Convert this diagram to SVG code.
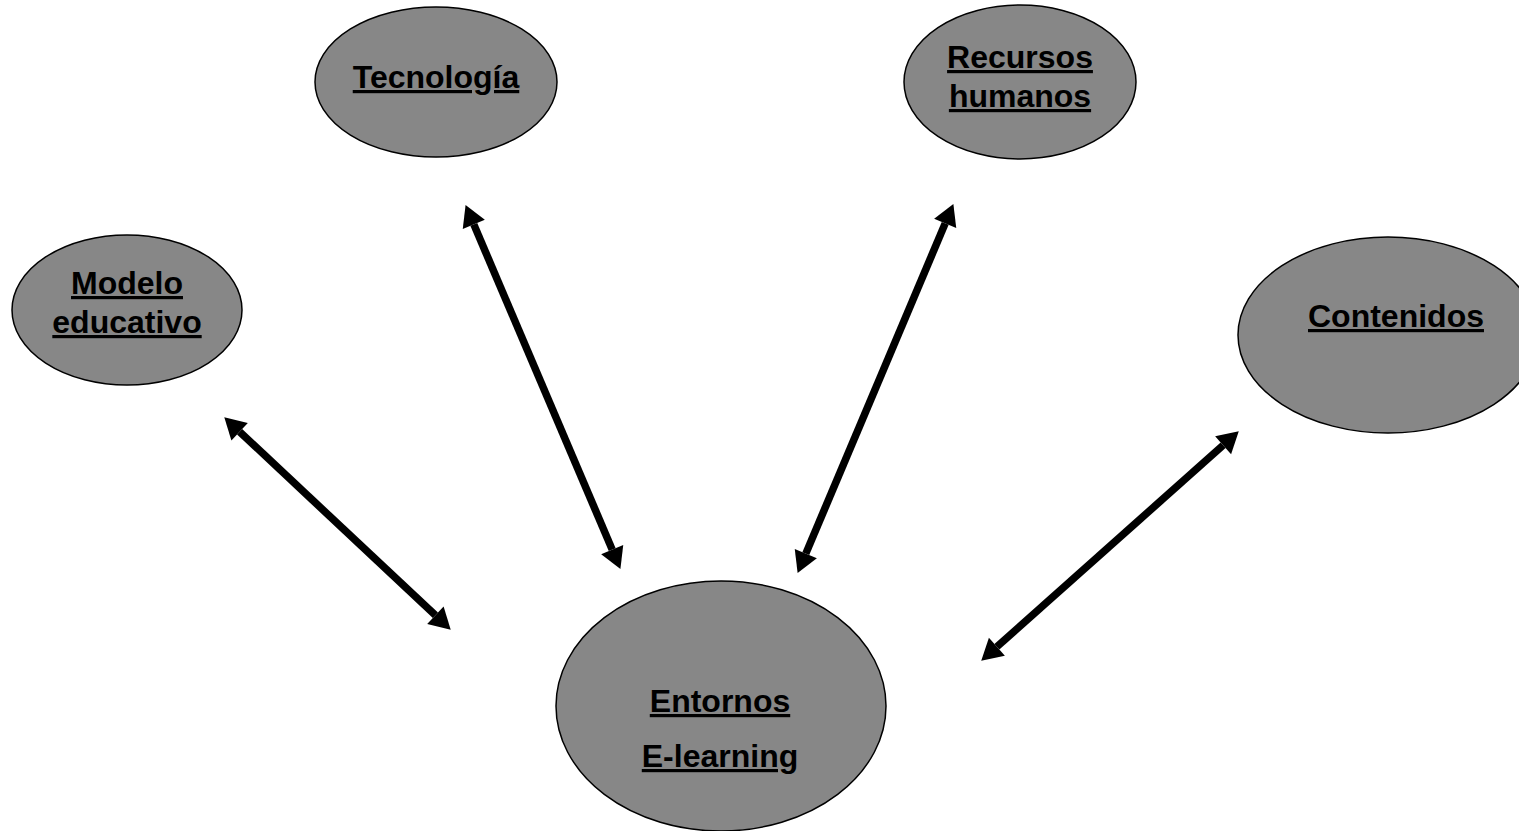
<svg xmlns="http://www.w3.org/2000/svg" width="1519" height="831" viewBox="0 0 1519 831">
<style>
.n{fill:#878787;stroke:#000;stroke-width:1.5}
.t{font-family:"Liberation Sans",Arial,sans-serif;font-weight:bold;font-size:32px;fill:#000;text-anchor:middle;text-decoration:underline}
.c{stroke:#000;stroke-width:7.5;fill:none;marker-start:url(#ah);marker-end:url(#ah)}
</style>
<defs>
<marker id="ah" markerUnits="userSpaceOnUse" markerWidth="22" markerHeight="24" refX="0" refY="12" orient="auto-start-reverse" overflow="visible">
<path d="M0,0 L21,12 L0,24 z" fill="#000"/>
</marker>
</defs>
<rect width="1519" height="831" fill="#fff"/>
<g id="connectors">
<line class="c" x1="239.6" y1="431.7" x2="435.4" y2="615.3"/>
<line class="c" x1="473.8" y1="224.4" x2="612.2" y2="549.6"/>
<line class="c" x1="945.2" y1="223.4" x2="805.8" y2="553.6"/>
<line class="c" x1="1223.1" y1="445.3" x2="996.9" y2="646.7"/>
</g>
<g id="tecnologia">
<ellipse class="n" cx="436" cy="82" rx="121" ry="75"/>
<text class="t" x="436" y="88">Tecnología</text>
</g>
<g id="recursos">
<ellipse class="n" cx="1020" cy="82" rx="116" ry="77"/>
<text class="t" x="1020" y="68">Recursos</text>
<text class="t" x="1020" y="107">humanos</text>
</g>
<g id="modelo">
<ellipse class="n" cx="127" cy="310" rx="115" ry="75"/>
<text class="t" x="127" y="294">Modelo</text>
<text class="t" x="127" y="333">educativo</text>
</g>
<g id="contenidos">
<ellipse class="n" cx="1388" cy="335" rx="150" ry="98"/>
<text class="t" x="1396" y="327">Contenidos</text>
</g>
<g id="entornos">
<ellipse class="n" cx="721" cy="706" rx="165" ry="125"/>
<text class="t" x="720" y="712">Entornos</text>
<text class="t" x="720" y="767">E-learning</text>
</g>
</svg>
